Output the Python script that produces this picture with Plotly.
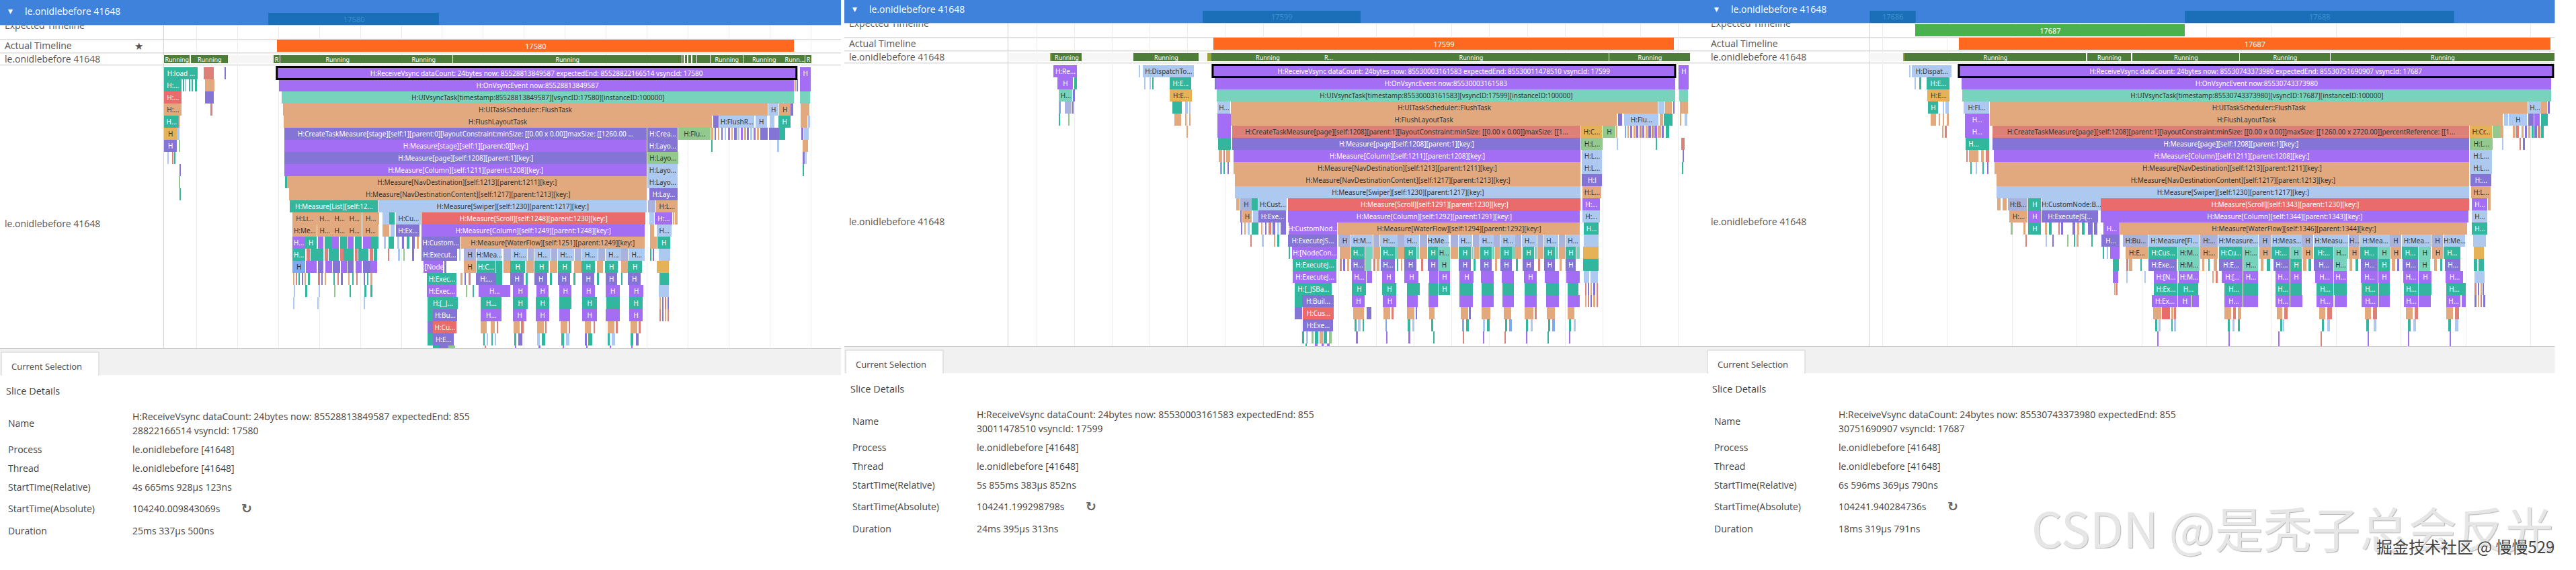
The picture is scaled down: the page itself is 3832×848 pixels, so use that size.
#! /usr/bin/python3

import plotly.graph_objects as go

W, H = 3832, 848
ROW_PX = 18

PROCESS = "le.onidlebefore 41648"
PROCESS_ID = "le.onidlebefore [41648]"

COLORS = {
    "v": "#a36ef3", "i": "#8474d6", "m": "#78d3bd", "t": "#33b69e", "p": "#e2a97f",
    "b": "#aec9ef", "r": "#e96b6b", "a": "#e6b257", "g": "#93c98c", "d": "#a9b2da",
    "s": "#dc8078", "c": "#7fa9ee", "run": "#4e7d3a", "ol": "#9aa63a", "bg": "#f6f6f6",
}
DARK_TEXT = {"p", "b", "m", "a", "g", "d", "s", "c"}

# panel 1, vsync 17580
P1_HEADER = [(489, 800, "17580")]
P1_EXPECTED = []
P1_ACTUAL = [(505, 1447, "17580")]
P1_STATES = [(298, 499, "bg", ""), (299, 346, "run", "Running"), (348, 416, "run", "Running"), (499, 510, "run", "R"),
             (511, 719, "run", "Running"), (720, 825, "run", "Running"), (826, 1243, "run", "Running"),
             (1244, 1247, "run", ""), (1249, 1253, "run", ""), (1255, 1260, "run", ""), (1262, 1270, "run", ""),
             (1271, 1294, "run", ""), (1295, 1355, "run", "Running"), (1356, 1430, "run", "Running"),
             (1431, 1467, "run", "Runn..."), (1468, 1479, "run", "R")]
P1_SELECTED = [(505, 1452, "H:ReceiveVsync dataCount: 24bytes now: 85528813849587 expectedEnd: 85528822166514 vsyncId: 17580")]
P1_R00 = [(299, 361, "t", "H:load ..."), (372, 390, "s"), (410, 412, "i"), (1458, 1478, "v", "H")]
P1_R01 = [(299, 331, "t", "H:..."), (334, 336, "t"), (338, 340, "b"), (345, 347, "t"), (350, 352, "t"), (355, 359, "t"),
          (374, 391, "p"), (510, 512, "v"), (513, 1447, "v", "H:OnVsyncEvent now:85528813849587"),
          (1449, 1451, "p"), (1453, 1455, "i"), (1458, 1478, "v")]
P1_R02 = [(299, 331, "r", "H:..."), (374, 390, "i"),
          (514, 1447, "m", "H:UIVsyncTask[timestamp:85528813849587][vsyncID:17580][instanceID:100000]"), (1459, 1477, "m")]
P1_R03 = [(299, 331, "p", "H:..."), (385, 387, "s"), (516, 1400, "p", "H:UITaskScheduler::FlushTask"),
          (1401, 1419, "b", "H"), (1420, 1441, "p", "H"), (1442, 1446, "i"), (1460, 1476, "p")]
P1_R04 = [(299, 326, "t", "H..."), (326, 328, "s"), (517, 1298, "p", "H:FlushLayoutTask"), (1300, 1310, "i"),
          (1312, 1375, "b", "H:FlushR..."), (1378, 1398, "b", "H"), (1403, 1412, "b"), (1419, 1441, "t", "H"),
          (1460, 1472, "p"), (1473, 1477, "b")]
P1_R05 = [(299, 323, "a", "H"), (323, 327, "b"),
          (518, 1179, "i", "H:CreateTaskMeasure[stage][self:1][parent:0][layoutConstraint:minSize: [[0.00 x 0.00]]maxSize: [[1260.00 ..."),
          (1180, 1236, "i", "H:Crea..."), (1237, 1296, "g", "H:Flu..."), (1297, 1300, "p"),
          (1303, 1306, "i"), (1309, 1312, "p"), (1315, 1318, "i"), (1321, 1324, "b"), (1327, 1331, "v"), (1333, 1336, "p"),
          (1339, 1343, "i"), (1345, 1348, "b"), (1351, 1355, "v"), (1357, 1360, "p"), (1362, 1366, "i"), (1368, 1372, "b"),
          (1374, 1378, "v"), (1380, 1384, "p"), (1386, 1400, "i"), (1402, 1420, "i"), (1420, 1432, "t"),
          (1461, 1465, "i"), (1466, 1474, "b")]
P1_R06 = [(299, 322, "i", "H"), (326, 329, "g"), (518, 1179, "v", "H:Measure[stage][self:1][parent:0][key:]"),
          (1180, 1236, "i", "H:Layo..."), (1297, 1299, "t"), (1418, 1420, "b"), (1464, 1473, "p")]
P1_R07 = [(306, 308, "b"), (314, 316, "s"), (318, 320, "t"), (519, 1179, "i", "H:Measure[page][self:1208][parent:1][key:]"),
          (1180, 1237, "g", "H:Layo..."), (1464, 1467, "i"), (1469, 1471, "b")]
P1_R08 = [(328, 330, "i"), (519, 1179, "v", "H:Measure[Column][self:1211][parent:1208][key:]"),
          (1180, 1236, "b", "H:Layo..."), (1464, 1466, "t")]
P1_R09 = [(327, 329, "g"), (521, 523, "t"), (523, 1179, "p", "H:Measure[NavDestination][self:1213][parent:1211][key:]"),
          (1180, 1236, "b", "H:Layo...")]
P1_R10 = [(327, 330, "t"), (527, 1179, "p", "H:Measure[NavDestinationContent][self:1217][parent:1213][key:]"),
          (1184, 1235, "i", "H:Lay...")]
P1_R11 = [(529, 689, "t", "H:Measure[List][self:12..."), (690, 1179, "b", "H:Measure[Swiper][self:1230][parent:1217][key:]"),
          (1182, 1195, "d"), (1196, 1235, "p", "H:L...")]
P1_R12 = [(533, 577, "p", "H:Li..."), (578, 605, "p", "H..."), (606, 632, "p", "H..."), (633, 660, "p", "H..."),
          (661, 691, "p", "H..."), (697, 710, "b"), (710, 720, "t"), (722, 767, "b", "H:Cu..."),
          (768, 1177, "r", "H:Measure[Scroll][self:1248][parent:1230][key:]"), (1184, 1193, "b"),
          (1194, 1226, "v", "H:..."), (1227, 1230, "p"), (1231, 1235, "p")]
P1_R13 = [(533, 578, "p", "H:Me..."), (579, 605, "p", "H..."), (606, 632, "p", "H..."), (633, 660, "p", "H..."),
          (661, 690, "p", "H..."), (698, 710, "p"), (712, 720, "b"), (722, 765, "i", "H:Ex..."),
          (768, 1175, "v", "H:Measure[Column][self:1249][parent:1248][key:]"), (1185, 1193, "p"), (1197, 1224, "b", "H...")]
P1_R14 = [(533, 556, "v", "H..."), (557, 578, "t", "H"), (580, 590, "v"), (592, 605, "t"), (606, 618, "v"), (620, 632, "t"),
          (634, 645, "v"), (647, 660, "t"), (662, 675, "v"), (676, 690, "t"), (700, 704, "b"), (708, 718, "t"),
          (724, 728, "b"), (733, 737, "i"), (742, 746, "t"), (752, 756, "i"), (760, 764, "p"),
          (768, 839, "i", "H:Custom..."), (840, 1175, "p", "H:Measure[WaterFlow][self:1251][parent:1249][key:]"),
          (1185, 1197, "p"), (1199, 1222, "t", "H")]
P1_R15 = [(533, 556, "t", "H..."), (559, 565, "s"), (566, 590, "t"), (592, 598, "s"), (599, 618, "t"), (620, 626, "s"),
          (627, 645, "t"), (647, 652, "s"), (653, 672, "t"), (674, 680, "s"), (681, 688, "t"),
          (708, 710, "s"), (726, 729, "b"), (735, 738, "g"), (752, 755, "i"),
          (768, 833, "i", "H:Execut..."), (838, 840, "b"), (846, 868, "d", "H"), (869, 915, "b", "H:Mea..."), (918, 933, "d"),
          (934, 961, "b", "H:..."), (962, 973, "d"), (975, 1004, "b", "H..."), (1005, 1016, "d"), (1018, 1047, "b", "H:..."),
          (1048, 1060, "d"), (1061, 1090, "b", "H..."), (1091, 1103, "d"), (1104, 1132, "b", "H..."), (1133, 1145, "d"),
          (1146, 1175, "b", "H..."), (1185, 1188, "t"), (1190, 1193, "i"), (1201, 1222, "b")]
P1_R16 = [(533, 556, "c", "H"), (558, 578, "v"), (580, 590, "i"), (593, 605, "v"), (607, 620, "i"), (621, 632, "v"),
          (634, 645, "i"), (648, 660, "v"), (662, 675, "i"), (676, 688, "v"), (772, 808, "v", "H:[Node..."), (810, 814, "i"),
          (846, 868, "p", "H"), (869, 903, "t", "H:C..."), (905, 916, "t"), (918, 930, "p"), (930, 957, "t", "H"),
          (960, 973, "p"), (975, 1000, "t", "H"), (1003, 1016, "p"), (1018, 1042, "t", "H"), (1047, 1060, "p"),
          (1060, 1085, "t", "H"), (1089, 1100, "p"), (1103, 1127, "t", "H"), (1132, 1145, "p"), (1145, 1170, "t", "H"),
          (1198, 1220, "a")]
P1_R17 = [(535, 537, "p"), (540, 542, "s"), (545, 547, "t"), (550, 553, "i"), (556, 558, "p"), (562, 565, "t"),
          (580, 583, "s"), (586, 589, "i"), (593, 595, "p"), (608, 611, "t"), (615, 618, "s"), (622, 625, "i"),
          (636, 638, "p"), (642, 645, "t"), (650, 652, "s"), (664, 666, "i"), (670, 672, "t"), (676, 679, "p"),
          (778, 832, "t", "H:Exec..."), (840, 843, "p"), (848, 850, "i"), (855, 858, "s"), (868, 905, "i", "H:..."),
          (905, 916, "t"), (930, 955, "i", "H"), (958, 962, "t"), (975, 998, "i", "H"), (1003, 1006, "t"), (1018, 1040, "i", "H"),
          (1046, 1049, "t"), (1062, 1083, "i", "H"), (1088, 1092, "t"), (1105, 1125, "i", "H"), (1132, 1135, "t"),
          (1145, 1168, "i", "H"), (1202, 1220, "t")]
P1_R18 = [(536, 538, "b"), (557, 560, "t"), (582, 584, "b"), (610, 612, "g"), (638, 640, "t"), (665, 668, "t"), (676, 679, "t"),
          (778, 832, "v", "H:Exec..."), (850, 852, "g"), (862, 864, "t"), (873, 930, "v", "H..."), (935, 962, "v", "H"),
          (978, 1000, "v", "H"), (1020, 1042, "v", "H"), (1062, 1085, "v", "H"), (1105, 1130, "v", "H"), (1147, 1173, "v", "H"),
          (1201, 1220, "b")]
P1_R19 = [(535, 537, "b"), (579, 581, "b"), (664, 666, "b"), (780, 835, "t", "H:[_J..."), (877, 915, "t", "H..."), (935, 962, "t", "H"),
          (977, 1002, "t", "H"), (1020, 1042, "t"), (1062, 1088, "t", "H"), (1106, 1130, "t"), (1147, 1172, "t", "H"),
          (1202, 1205, "p"), (1207, 1210, "i"), (1212, 1215, "s"), (1217, 1220, "i")]
P1_R20 = [(780, 790, "t"), (790, 833, "i", "H:Bu..."), (877, 915, "v", "H..."), (935, 960, "v", "H"), (977, 1002, "v", "H"),
          (1020, 1040, "v"), (1062, 1088, "v", "H"), (1105, 1130, "v"), (1147, 1172, "v", "H"),
          (1202, 1205, "s"), (1207, 1210, "i"), (1212, 1215, "p"), (1217, 1220, "s")]
P1_R21 = [(780, 790, "i"), (790, 832, "r", "H:Cu..."), (877, 888, "p"), (895, 902, "p"), (906, 908, "s"), (937, 948, "p"), (950, 955, "s"),
          (980, 992, "p"), (995, 997, "s"), (1022, 1034, "p"), (1037, 1040, "s"), (1066, 1078, "p"), (1082, 1085, "s"),
          (1108, 1120, "p"), (1123, 1126, "s"), (1150, 1162, "p"), (1165, 1168, "s")]
P1_R22 = [(780, 790, "t"), (790, 828, "i", "H:E..."), (881, 884, "t"), (887, 890, "b"), (896, 899, "t"), (903, 905, "b"),
          (938, 942, "t"), (945, 952, "i"), (980, 984, "b"), (988, 994, "t"), (1023, 1028, "t"), (1032, 1038, "b"),
          (1066, 1070, "i"), (1073, 1080, "t"), (1108, 1112, "t"), (1116, 1122, "b"), (1150, 1155, "t"), (1159, 1165, "i")]
P1_R23 = [(790, 800, "t"), (800, 818, "i"), (818, 830, "g"), (884, 886, "s"), (940, 942, "v"), (983, 985, "v"), (1026, 1028, "v"),
          (1069, 1071, "i"), (1112, 1114, "v"), (1152, 1154, "v")]
P1_ROWS = [P1_R00, P1_R01, P1_R02, P1_R03, P1_R04, P1_R05, P1_R06, P1_R07, P1_R08, P1_R09, P1_R10, P1_R11,
           P1_R12, P1_R13, P1_R14, P1_R15, P1_R16, P1_R17, P1_R18, P1_R19, P1_R20, P1_R21, P1_R22, P1_R23]

# panel 2, vsync 17599
P2_HEADER = [(644, 930, "17599")]
P2_EXPECTED = []
P2_ACTUAL = [(664, 1498, "17599")]
P2_STATES = [(293, 653, "bg", ""), (368, 370, "ol", ""), (370, 425, "run", "Running"), (519, 637, "run", "Running"), (653, 660, "ol", ""),
             (660, 863, "run", "Running"), (864, 880, "run", "R..."), (881, 1380, "run", "Running"), (1381, 1527, "run", "Running")]
P2_SELECTED = [(663, 1501, "H:ReceiveVsync dataCount: 24bytes now: 85530003161583 expectedEnd: 85530011478510 vsyncId: 17599")]
P2_R00 = [(374, 416, "v", "H:Re..."), (529, 531, "b"), (536, 628, "b", "H:DispatchTo..."), (1506, 1525, "v", "H")]
P2_R01 = [(381, 409, "v", "H"), (411, 417, "t"), (539, 541, "b"), (548, 550, "b"), (553, 555, "t"), (585, 623, "t", "H:E..."),
          (667, 669, "i"), (669, 1501, "v", "H:OnVsyncEvent now:85530003161583"), (1507, 1525, "v")]
P2_R02 = [(384, 408, "m", "H..."), (409, 413, "i"), (585, 625, "a", "H:E..."),
          (670, 1501, "m", "H:UIVsyncTask[timestamp:85530003161583][vsyncID:17599][instanceID:100000]"), (1508, 1524, "m")]
P2_R03 = [(384, 387, "c"), (394, 407, "d"), (408, 410, "i"), (590, 607, "t"), (613, 617, "b"), (620, 622, "b"),
          (671, 694, "b", "H..."), (695, 1469, "p", "H:UITaskScheduler::FlushTask"), (1470, 1481, "b"), (1482, 1494, "p"),
          (1497, 1499, "i"), (1509, 1523, "p")]
P2_R04 = [(384, 386, "t"), (401, 403, "g"), (593, 605, "p"), (613, 615, "p"), (620, 622, "p"), (671, 695, "v"),
          (695, 1395, "p", "H:FlushLayoutTask"), (1397, 1404, "i"), (1408, 1470, "b", "H:Flu..."), (1472, 1479, "p"), (1480, 1495, "t"),
          (1510, 1512, "p"), (1518, 1522, "b")]
P2_R05 = [(616, 618, "p"), (671, 695, "v"),
          (698, 1329, "s", "H:CreateTaskMeasure[page][self:1208][parent:1][layoutConstraint:minSize: [[0.00 x 0.00]]maxSize: [[1..."),
          (1330, 1368, "a", "H:C..."), (1369, 1392, "g", "H"), (1393, 1396, "p"), (1409, 1412, "c"), (1414, 1417, "p"), (1419, 1423, "v"),
          (1425, 1428, "p"), (1430, 1434, "i"), (1436, 1439, "s"), (1441, 1445, "v"), (1447, 1450, "p"), (1452, 1456, "i"),
          (1458, 1461, "s"), (1463, 1467, "v"), (1469, 1475, "p"), (1476, 1480, "i"), (1483, 1489, "t")]
P2_R06 = [(672, 695, "t"), (698, 1329, "i", "H:Measure[page][self:1208][parent:1][key:]"), (1330, 1369, "g", "H:L..."),
          (1395, 1397, "b"), (1466, 1468, "t"), (1512, 1518, "s")]
P2_R07 = [(674, 680, "p"), (682, 685, "s"), (687, 694, "p"), (700, 1329, "v", "H:Measure[Column][self:1211][parent:1208][key:]"),
          (1331, 1368, "b", "H:L..."), (1514, 1516, "i")]
P2_R08 = [(677, 679, "c"), (683, 685, "t"), (690, 692, "i"), (700, 1329, "p", "H:Measure[NavDestination][self:1213][parent:1211][key:]"),
          (1331, 1368, "b", "H:L..."), (1513, 1515, "t")]
P2_R09 = [(703, 1329, "p", "H:Measure[NavDestinationContent][self:1217][parent:1213][key:]"), (1331, 1368, "i", "H:l")]
P2_R10 = [(703, 1329, "b", "H:Measure[Swiper][self:1230][parent:1217][key:]"), (1332, 1366, "p", "H:L...")]
P2_R11 = [(705, 711, "p"), (713, 733, "d", "H"), (733, 744, "t"), (745, 797, "b", "H:Cust..."),
          (799, 1329, "r", "H:Measure[Scroll][self:1291][parent:1230][key:]"), (1332, 1364, "v", "H:...")]
P2_R12 = [(713, 715, "i"), (716, 733, "p", "H"), (735, 745, "b"), (745, 795, "i", "H:Exe..."),
          (799, 1328, "v", "H:Measure[Column][self:1292][parent:1291][key:]"), (1332, 1364, "b", "H:...")]
P2_R13 = [(714, 716, "i"), (720, 722, "p"), (726, 729, "b"), (733, 745, "t"), (750, 753, "p"), (757, 760, "i"), (764, 768, "s"),
          (771, 776, "i"), (779, 783, "b"), (786, 795, "i"), (800, 888, "v", "H:CustomNod..."),
          (889, 1328, "p", "H:Measure[WaterFlow][self:1294][parent:1292][key:]"), (1335, 1362, "t", "H...")]
P2_R14 = [(731, 733, "s"), (751, 755, "b"), (773, 776, "p"), (780, 783, "t"), (799, 888, "i", "H:ExecuteJS..."), (890, 912, "d", "H"),
          (913, 952, "b", "H:M..."), (953, 965, "d"), (966, 997, "b", "H:..."), (998, 1009, "d"), (1010, 1037, "b", "H..."),
          (1038, 1051, "d"), (1052, 1090, "b", "H:Me..."), (1094, 1107, "d"), (1108, 1133, "b", "H..."), (1134, 1146, "d"),
          (1147, 1171, "b", "H..."), (1172, 1183, "d"), (1184, 1210, "b", "H..."), (1211, 1222, "d"), (1223, 1250, "b", "H..."),
          (1251, 1262, "d"), (1263, 1289, "b", "H..."), (1290, 1301, "d"), (1302, 1327, "b", "H..."), (1335, 1361, "b")]
P2_R15 = [(800, 803, "t"), (806, 888, "v", "H:[NodeCon..."), (893, 912, "p"), (913, 938, "t", "H..."), (939, 952, "m"), (953, 966, "p"),
          (967, 992, "t", "H..."), (993, 997, "m"), (998, 1009, "p"), (1010, 1032, "t", "H"), (1033, 1037, "m"), (1038, 1051, "p"),
          (1052, 1070, "t", "H"), (1071, 1092, "m", "H..."), (1094, 1107, "p"), (1108, 1130, "t", "H"), (1131, 1135, "m"), (1136, 1146, "p"),
          (1147, 1168, "t", "H"), (1169, 1173, "m"), (1174, 1183, "p"), (1184, 1204, "t", "H"), (1205, 1210, "m"), (1211, 1222, "p"),
          (1224, 1245, "t", "H"), (1246, 1250, "m"), (1251, 1262, "p"), (1263, 1283, "t", "H"), (1284, 1289, "m"), (1290, 1301, "p"),
          (1302, 1320, "t", "H"), (1321, 1327, "m"), (1334, 1362, "a")]
P2_R16 = [(807, 887, "t", "H:ExecuteJ..."), (893, 896, "s"), (899, 902, "i"), (906, 910, "p"), (913, 938, "i", "H..."), (939, 950, "m"),
          (953, 957, "s"), (960, 964, "p"), (967, 992, "i", "H..."), (996, 999, "t"), (1003, 1006, "p"), (1010, 1032, "i", "H"), (1040, 1044, "s"),
          (1052, 1070, "i", "H"), (1071, 1092, "m", "H"), (1108, 1130, "i", "H"), (1135, 1139, "t"), (1147, 1168, "i", "H"), (1174, 1178, "p"),
          (1184, 1204, "i", "H"), (1212, 1216, "t"), (1224, 1245, "i", "H"), (1252, 1256, "s"), (1263, 1283, "i", "H"),
          (1291, 1295, "p"), (1302, 1320, "i", "H"), (1334, 1362, "t")]
P2_R17 = [(807, 887, "v", "H:ExecuteJ..."), (914, 940, "v", "H..."), (941, 951, "v"), (970, 993, "v", "H"), (1010, 1035, "v", "H"), (1055, 1070, "v"),
          (1072, 1092, "v", "H"), (1109, 1135, "v", "H"), (1148, 1172, "v"), (1186, 1208, "v"), (1226, 1250, "v", "H"), (1264, 1290, "v"),
          (1303, 1327, "v"), (1335, 1345, "b"), (1347, 1360, "b")]
P2_R18 = [(811, 878, "t", "H:[_JSBa..."), (915, 940, "t", "H"), (970, 995, "t", "H"), (1014, 1038, "t"), (1053, 1070, "t"),
          (1072, 1092, "t", "H"), (1110, 1134, "t"), (1150, 1172, "t"), (1188, 1208, "t"), (1228, 1250, "t"), (1267, 1290, "t"),
          (1305, 1325, "t"), (1337, 1340, "s"), (1342, 1345, "i"), (1347, 1350, "p"), (1352, 1356, "i"), (1358, 1360, "s")]
P2_R19 = [(811, 824, "t"), (825, 882, "i", "H:Buil..."), (915, 938, "v", "H"), (971, 995, "v", "H"), (1014, 1034, "v"), (1053, 1070, "v"),
          (1110, 1134, "v"), (1150, 1172, "v"), (1188, 1208, "v"), (1228, 1250, "v"), (1267, 1290, "v"), (1305, 1327, "v"),
          (1337, 1340, "p"), (1342, 1345, "s"), (1347, 1350, "i"), (1352, 1356, "p"), (1358, 1360, "s")]
P2_R20 = [(811, 824, "i"), (826, 882, "r", "H:Cus..."), (917, 936, "p"), (941, 950, "i"), (972, 984, "p"), (986, 990, "s"), (1015, 1028, "p"),
          (1030, 1033, "i"), (1055, 1065, "p"), (1112, 1125, "p"), (1127, 1130, "i"), (1150, 1165, "p"), (1190, 1203, "p"), (1228, 1243, "p"),
          (1246, 1250, "s"), (1268, 1283, "p"), (1305, 1318, "p")]
P2_R21 = [(826, 880, "i", "H:Exe..."), (920, 923, "t"), (926, 930, "b"), (934, 937, "t"), (975, 978, "c"), (1016, 1020, "t"), (1024, 1028, "b"),
          (1058, 1062, "t"), (1114, 1118, "c"), (1122, 1126, "t"), (1152, 1156, "b"), (1160, 1164, "t"), (1192, 1196, "t"), (1200, 1204, "c"),
          (1230, 1234, "t"), (1238, 1242, "b"), (1270, 1274, "t"), (1278, 1282, "c"), (1308, 1312, "t"), (1316, 1320, "b")]
P2_R22 = [(825, 828, "t"), (832, 836, "b"), (841, 845, "g"), (848, 854, "t"), (856, 862, "p"), (864, 870, "t"), (873, 878, "g"),
          (923, 925, "v"), (977, 979, "v"), (1018, 1020, "v"), (1062, 1064, "t"), (1116, 1118, "s"), (1153, 1155, "v"),
          (1192, 1194, "s"), (1231, 1233, "v"), (1270, 1272, "t"), (1309, 1311, "v")]
P2_R23 = [(830, 833, "t"), (848, 852, "v"), (860, 864, "v"), (870, 874, "v")]
P2_ROWS = [P2_R00, P2_R01, P2_R02, P2_R03, P2_R04, P2_R05, P2_R06, P2_R07, P2_R08, P2_R09, P2_R10, P2_R11,
           P2_R12, P2_R13, P2_R14, P2_R15, P2_R16, P2_R17, P2_R18, P2_R19, P2_R20, P2_R21, P2_R22, P2_R23]

# panel 3, vsync 17687
P3_HEADER = [(293, 376, "17686"), (862, 1348, "17688")]
P3_EXPECTED = [(375, 862, "17687")]
P3_ACTUAL = [(454, 1522, "17687")]
P3_STATES = [(293, 354, "bg", ""), (354, 356, "ol", ""), (356, 684, "run", "Running"), (686, 765, "run", "Running"), (767, 961, "run", "Running"),
             (962, 1125, "run", "Running"), (1126, 1530, "run", "Running")]
P3_SELECTED = [(454, 1527, "H:ReceiveVsync dataCount: 24bytes now: 85530743373980 expectedEnd: 85530751690907 vsyncId: 17687")]
P3_R00 = [(365, 367, "b"), (370, 441, "b", "H:Dispat...")]
P3_R01 = [(375, 377, "b"), (384, 386, "t"), (396, 437, "t", "H:E..."), (459, 1524, "v", "H:OnVsyncEvent now:85530743373980")]
P3_R02 = [(397, 437, "a", "H:E..."), (461, 1524, "m", "H:UIVsyncTask[timestamp:85530743373980][vsyncID:17687][instanceID:100000]")]
P3_R03 = [(399, 417, "t", "H"), (425, 428, "b"), (430, 436, "b"), (463, 509, "b", "H:Fl..."), (510, 1481, "p", "H:UITaskScheduler::FlushTask"),
          (1482, 1505, "b", "H..."), (1505, 1517, "p"), (1518, 1521, "i")]
P3_R04 = [(403, 413, "p"), (418, 421, "p"), (425, 428, "p"), (432, 436, "p"), (465, 509, "v", "H..."), (510, 1437, "p", "H:FlushLayoutTask"),
          (1439, 1446, "b"), (1447, 1480, "b", "H"), (1482, 1492, "i"), (1493, 1503, "v"), (1505, 1518, "t")]
P3_R05 = [(425, 427, "p"), (430, 432, "s"), (465, 509, "v", "H..."),
          (515, 1376, "s", "H:CreateTaskMeasure[page][self:1208][parent:1][layoutConstraint:minSize: [[0.00 x 0.00]]maxSize: [[1260.00 x 2720.00]]percentReference: [[1..."),
          (1377, 1417, "a", "H:Cr..."), (1418, 1432, "g"), (1432, 1438, "p"), (1455, 1459, "p"), (1461, 1466, "s"), (1470, 1474, "p"),
          (1476, 1480, "i"), (1483, 1486, "p"), (1488, 1492, "t"), (1494, 1498, "i"), (1500, 1504, "s"), (1505, 1511, "t")]
P3_R06 = [(466, 495, "t", "H..."), (495, 509, "t"), (515, 1376, "i", "H:Measure[page][self:1208][parent:1][key:]"), (1377, 1418, "g", "H:L..."),
          (1436, 1438, "b"), (1467, 1469, "s"), (1474, 1476, "i")]
P3_R07 = [(468, 470, "s"), (473, 490, "p"), (495, 499, "p"), (503, 509, "s"), (517, 1376, "v", "H:Measure[Column][self:1211][parent:1208][key:]"),
          (1377, 1417, "b", "H:L...")]
P3_R08 = [(476, 478, "t"), (485, 487, "b"), (497, 499, "t"), (505, 508, "i"),
          (519, 1376, "p", "H:Measure[NavDestination][self:1213][parent:1211][key:]"), (1377, 1417, "b", "H:L...")]
P3_R09 = [(522, 1376, "p", "H:Measure[NavDestinationContent][self:1217][parent:1213][key:]"), (1378, 1416, "i", "H:...")]
P3_R10 = [(522, 1376, "b", "H:Measure[Swiper][self:1230][parent:1217][key:]"), (1379, 1415, "p", "H:L...")]
P3_R11 = [(524, 530, "p"), (533, 541, "p"), (543, 578, "d", "H:B..."), (580, 603, "t", "H"), (604, 710, "b", "H:CustomNode:B..."),
          (711, 1376, "r", "H:Measure[Scroll][self:1343][parent:1230][key:]"), (1380, 1409, "v", "H..."), (1410, 1415, "p")]
P3_R12 = [(545, 578, "p", "H:..."), (580, 603, "v", "H"), (604, 706, "i", "H:ExecuteJS[..."),
          (711, 1374, "v", "H:Measure[Column][self:1344][parent:1343][key:]"), (1381, 1409, "b", "H...")]
P3_R13 = [(549, 551, "g"), (572, 574, "p"), (580, 603, "t", "H"), (610, 614, "p"), (617, 622, "t"), (635, 637, "s"), (640, 642, "i"),
          (660, 664, "i"), (668, 672, "p"), (676, 682, "t"), (688, 696, "i"), (698, 705, "i"), (715, 745, "v", "H..."),
          (746, 1372, "p", "H:Measure[WaterFlow][self:1346][parent:1344][key:]"), (1381, 1408, "t", "H...")]
P3_R14 = [(575, 577, "s"), (611, 614, "b"), (624, 626, "i"), (650, 652, "g"), (662, 664, "t"), (667, 670, "p"), (694, 696, "t"),
          (712, 745, "i", "H..."), (751, 795, "d", "H:Bu..."), (797, 889, "b", "H:Measure[Fl..."), (890, 922, "d", "H:..."),
          (923, 995, "b", "H:Measure..."), (996, 1018, "d", "H"), (1019, 1073, "b", "H:Meas..."), (1074, 1094, "d", "H"),
          (1095, 1157, "b", "H:Measu..."), (1158, 1178, "d", "H..."), (1179, 1232, "b", "H:Mea..."), (1233, 1253, "d", "H"),
          (1254, 1307, "b", "H:Mea..."), (1308, 1328, "d", "H"), (1329, 1368, "b", "H:Me..."), (1383, 1406, "b")]
P3_R15 = [(715, 717, "t"), (722, 724, "b"), (727, 745, "v"), (755, 796, "p", "H:E..."), (797, 849, "t", "H:Cus..."), (850, 889, "m", "H:M..."),
          (890, 922, "p", "H:..."), (924, 967, "t", "H:Cu..."), (968, 995, "m", "H:..."), (997, 1018, "p", "H"), (1019, 1052, "t", "H:..."),
          (1053, 1073, "m", "H"), (1075, 1094, "p", "H"), (1095, 1131, "t", "H:..."), (1132, 1157, "m", "H..."), (1158, 1178, "p", "H"),
          (1179, 1211, "t", "H..."), (1212, 1232, "m", "H"), (1234, 1253, "p", "H"), (1254, 1284, "t", "H..."), (1285, 1307, "m", "H"),
          (1309, 1328, "p", "H"), (1330, 1360, "t", "H..."), (1384, 1403, "a")]
P3_R16 = [(732, 743, "t"), (757, 760, "s"), (762, 768, "p"), (783, 785, "t"), (797, 848, "i", "H:Exe..."), (850, 889, "m", "H:M..."),
          (894, 897, "p"), (905, 907, "t"), (915, 920, "p"), (924, 967, "i", "H:E..."), (968, 995, "m", "H..."), (1000, 1004, "p"), (1010, 1016, "t"),
          (1022, 1052, "i", "H:..."), (1053, 1073, "t", "H"), (1076, 1082, "p"), (1086, 1090, "t"), (1095, 1131, "i", "H..."), (1132, 1155, "m", "H..."),
          (1160, 1165, "p"), (1170, 1175, "t"), (1180, 1211, "i", "H..."), (1212, 1232, "t", "H"), (1236, 1242, "p"), (1246, 1250, "i"),
          (1255, 1284, "i", "H..."), (1285, 1305, "m", "H"), (1312, 1317, "p"), (1323, 1327, "t"), (1332, 1360, "i", "H..."), (1384, 1390, "t"), (1393, 1403, "t")]
P3_R17 = [(732, 742, "v"), (757, 759, "b"), (790, 792, "b"), (806, 849, "v", "H:[N..."), (851, 888, "v", "H:M..."), (912, 915, "p"), (918, 922, "s"),
          (929, 967, "v", "H:[..."), (968, 995, "v", "H..."), (1026, 1052, "v", "H..."), (1053, 1074, "v", "H"), (1098, 1131, "v", "H..."),
          (1132, 1155, "v", "H..."), (1180, 1211, "v", "H..."), (1212, 1232, "v", "H"), (1257, 1284, "v", "H..."), (1285, 1308, "v", "H"),
          (1333, 1365, "v", "H..."), (1386, 1404, "b")]
P3_R18 = [(735, 737, "p"), (738, 741, "s"), (807, 849, "t", "H:Ex..."), (850, 887, "t", "H..."), (934, 967, "t", "H..."), (968, 994, "t"),
          (1026, 1052, "t", "H..."), (1053, 1074, "t"), (1100, 1131, "t", "H..."), (1132, 1155, "t"), (1182, 1212, "t", "H..."), (1213, 1232, "t"),
          (1258, 1284, "t", "H..."), (1285, 1308, "t"), (1335, 1362, "t", "H..."), (1362, 1370, "t"),
          (1386, 1389, "s"), (1391, 1394, "i"), (1396, 1399, "p"), (1401, 1403, "i")]
P3_R19 = [(803, 849, "v", "H:Ex..."), (850, 875, "v", "H"), (876, 888, "v"), (934, 967, "v", "H..."), (968, 995, "v"), (1026, 1052, "v", "H..."),
          (1053, 1075, "v"), (1100, 1131, "v", "H..."), (1133, 1155, "v"), (1182, 1212, "v", "H..."), (1213, 1232, "v"), (1258, 1284, "v", "H..."),
          (1285, 1307, "v"), (1335, 1360, "v", "H..."), (1362, 1370, "v"), (1386, 1389, "i"), (1391, 1394, "p"), (1396, 1399, "s"), (1401, 1405, "i")]
P3_R20 = [(805, 820, "p"), (821, 836, "r"), (838, 842, "p"), (844, 846, "s"), (934, 946, "p"), (950, 954, "s"), (958, 964, "p"),
          (1028, 1038, "p"), (1042, 1048, "s"), (1105, 1116, "p"), (1120, 1128, "s"), (1187, 1198, "p"), (1202, 1210, "s"),
          (1262, 1274, "p"), (1277, 1283, "s"), (1335, 1346, "p"), (1350, 1357, "s")]
P3_R21 = [(809, 812, "t"), (815, 818, "b"), (838, 841, "t"), (844, 846, "b"), (940, 944, "t"), (948, 952, "b"), (958, 962, "t"),
          (1035, 1038, "t"), (1040, 1042, "b"), (1110, 1114, "t"), (1120, 1125, "b"), (1190, 1195, "t"), (1203, 1208, "b"),
          (1265, 1270, "t"), (1275, 1280, "b"), (1338, 1343, "t"), (1350, 1356, "b")]
P3_R22 = [(813, 815, "v"), (942, 944, "v"), (1031, 1033, "v"), (1108, 1110, "s"), (1193, 1195, "v"), (1266, 1268, "v"), (1341, 1343, "v")]
P3_R23 = [(813, 815, "v"), (942, 944, "v"), (1031, 1033, "v"), (1108, 1110, "s"), (1193, 1195, "v"), (1266, 1268, "v"), (1341, 1343, "v")]
P3_ROWS = [P3_R00, P3_R01, P3_R02, P3_R03, P3_R04, P3_R05, P3_R06, P3_R07, P3_R08, P3_R09, P3_R10, P3_R11,
           P3_R12, P3_R13, P3_R14, P3_R15, P3_R16, P3_R17, P3_R18, P3_R19, P3_R20, P3_R21, P3_R22, P3_R23]

# the detail pane under each timeline
P1_NAME = ["H:ReceiveVsync dataCount: 24bytes now: 85528813849587 expectedEnd: 855", "28822166514 vsyncId: 17580"]
P1_TIMES = ["4s 665ms 928μs 123ns", "104240.009843069s", "25ms 337μs 500ns"]
P2_NAME = ["H:ReceiveVsync dataCount: 24bytes now: 85530003161583 expectedEnd: 855", "30011478510 vsyncId: 17599"]
P2_TIMES = ["5s 855ms 383μs 852ns", "104241.199298798s", "24ms 395μs 313ns"]
P3_NAME = ["H:ReceiveVsync dataCount: 24bytes now: 85530743373980 expectedEnd: 855", "30751690907 vsyncId: 17687"]
P3_TIMES = ["6s 596ms 369μs 790ns", "104241.940284736s", "18ms 319μs 791ns"]

TRACK_NAMES = ["Expected Timeline", "Actual Timeline", PROCESS]
DETAIL_NAMES = ["Name", "Process", "Thread", "StartTime(Relative)", "StartTime(Absolute)", "Duration"]

# page geometry of each panel: left, chart left, right, y shift, zoom x at chart left and right, grid start and step
PANELS = [
    dict(left=0, chart=243.3, right=1251, dy=0, x0=298, x1=1533, tick0=358, dtick=74.7,
         header=P1_HEADER, expected=P1_EXPECTED, actual=P1_ACTUAL, states=P1_STATES, selected=P1_SELECTED, rows=P1_ROWS,
         name=P1_NAME, times=P1_TIMES),
    dict(left=1256, chart=1499.4, right=2538, dy=-3, x0=291, x1=1556, tick0=343, dtick=68.4,
         header=P2_HEADER, expected=P2_EXPECTED, actual=P2_ACTUAL, states=P2_STATES, selected=P2_SELECTED, rows=P2_ROWS,
         name=P2_NAME, times=P2_TIMES),
    dict(left=2538, chart=2781.4, right=3800.5, dy=-3, x0=293, x1=1530, tick0=316, dtick=117.05,
         header=P3_HEADER, expected=P3_EXPECTED, actual=P3_ACTUAL, states=P3_STATES, selected=P3_SELECTED, rows=P3_ROWS,
         name=P3_NAME, times=P3_TIMES),
]

FONT = "Open Sans"
SLICE_FONT = "Noto Sans"
BLUE = "#3e82dc"
DARK_BLUE = "#1a6fb8"
TEXT = "#444444"


def px(x):
    return x / W


def py(y):
    return 1 - y / H


def slice_bars(items, row, xaxis, yaxis, height=1.0, fontsize=10):
    starts, widths, colors, labels, text_colors = [], [], [], [], []
    for item in items:
        start, end, kind = item[:3]
        label = item[3] if len(item) > 3 else ""
        starts.append(start)
        widths.append(end - start)
        colors.append(COLORS[kind])
        labels.append(label)
        text_colors.append("#333333" if kind in DARK_TEXT else "#ffffff")
    return go.Bar(y=[row] * len(items), x=widths, base=starts, orientation="h", width=height,
                  xaxis=xaxis, yaxis=yaxis, marker=dict(color=colors, line=dict(width=0)),
                  text=labels, textposition="inside", insidetextanchor="middle", textangle=0,
                  constraintext="none", insidetextfont=dict(family=SLICE_FONT, size=fontsize, color=text_colors),
                  hoverinfo="skip", showlegend=False)


shapes = []
annotations = []
data = []
layout_axes = {}


def rect(x0, y0, x1, y1, color, layer="above", line=None):
    shapes.append(dict(type="rect", xref="paper", yref="paper", x0=px(x0), x1=px(x1), y0=py(y0), y1=py(y1),
                       fillcolor=color, layer=layer, line=dict(width=0) if line is None else line))


def label(x, y, text, size=15, color=TEXT, family=FONT, anchor="left", shadow=None):
    font = dict(family=family, size=size, color=color)
    if shadow:
        font["shadow"] = shadow
    annotations.append(dict(xref="paper", yref="paper", x=px(x), y=py(y), text=text, showarrow=False,
                            xanchor=anchor, yanchor="middle", align="left", font=font))


page_x, page_y, page_text = [], [], []

for n, panel in enumerate(PANELS, start=1):
    left, chart, right, dy = panel["left"], panel["chart"], panel["right"], panel["dy"]
    row_top = 100 + dy
    xname = "xaxis" if n == 1 else f"xaxis{n}"
    yname = "yaxis" if n == 1 else f"yaxis{n}"
    xref = "x" if n == 1 else f"x{n}"
    yref = "y" if n == 1 else f"y{n}"

    layout_axes[xname] = dict(domain=[px(chart), px(right)], range=[panel["x0"], panel["x1"]], anchor=yref,
                              showgrid=True, gridcolor="#ececec", gridwidth=1, tick0=panel["tick0"], dtick=panel["dtick"],
                              tickmode="linear", showticklabels=False, ticks="", zeroline=False, showline=False)
    layout_axes[yname] = dict(domain=[0, 1], range=[(H - row_top) / ROW_PX - 0.5, -row_top / ROW_PX - 0.5], anchor=xref,
                              visible=False, showgrid=False, zeroline=False)

    # tracks above the flame chart
    expected_y = (45 - 97) / ROW_PX - 0.5
    actual_y = (68 - 100) / ROW_PX - 0.5
    state_y = (88 - 100) / ROW_PX - 0.5
    if panel["expected"]:
        data.append(go.Bar(y=[expected_y] * len(panel["expected"]), x=[e - s for s, e, _ in panel["expected"]],
                           base=[s for s, _, _ in panel["expected"]], orientation="h", width=1, xaxis=xref, yaxis=yref,
                           marker=dict(color="#4caf50", line=dict(width=0)), text=[t for _, _, t in panel["expected"]],
                           textposition="inside", insidetextanchor="middle", textangle=0, constraintext="none",
                           insidetextfont=dict(family=SLICE_FONT, size=11, color="#ffffff"), hoverinfo="skip", showlegend=False))
    data.append(go.Bar(y=[actual_y] * len(panel["actual"]), x=[e - s for s, e, _ in panel["actual"]],
                       base=[s for s, _, _ in panel["actual"]], orientation="h", width=1, xaxis=xref, yaxis=yref,
                       marker=dict(color="#ff681f", line=dict(width=0)), text=[t for _, _, t in panel["actual"]],
                       textposition="inside", insidetextanchor="middle", textangle=0, constraintext="none",
                       insidetextfont=dict(family=SLICE_FONT, size=11, color="#ffffff"), hoverinfo="skip", showlegend=False))
    data.append(slice_bars(panel["states"], state_y, xref, yref, height=12 / ROW_PX, fontsize=9))

    # flame rows
    for r, items in enumerate(panel["rows"]):
        if items:
            data.append(slice_bars(items, r, xref, yref))
    sel = [(s, e, "v", t) for s, e, t in panel["selected"]]
    sel_trace = slice_bars(sel, 0, xref, yref)
    sel_trace.marker.line = dict(width=3, color="#000000")
    data.append(sel_trace)

    # labels on the left, drawn under the header so that the first one is cut by it
    for name, y in zip(TRACK_NAMES, [39, 69, 89]):
        page_x.append(left + 7)
        page_y.append(y + dy)
        page_text.append(name)
    page_x.append(left + 7)
    page_y.append(334 + dy)
    page_text.append(PROCESS)

    # row borders and left edge of the chart
    rect(left, 58 + dy, right, 59.5 + dy, "#dcdcdc", layer="below")
    rect(left, 78 + dy, right, 79.5 + dy, "#dcdcdc", layer="below")
    rect(left, 96 + dy, right, 97.5 + dy, "#dcdcdc", layer="below")
    rect(chart - 0.5, 37 + dy, chart + 0.5, 518 + dy, "#cfcfcf", layer="below")

    # header
    rect(left, 0, right, 37 + dy, BLUE)
    rect(left, 37 + dy, right, 38 + dy, "#b9d3f3")
    scale = (right - chart) / (panel["x1"] - panel["x0"])
    for s, e, t in panel["header"]:
        bx0 = chart + (s - panel["x0"]) * scale
        bx1 = chart + (e - panel["x0"]) * scale
        rect(bx0, 19 + dy, bx1, 37 + dy, DARK_BLUE)
        label((bx0 + bx1) / 2, 28 + dy, t, size=11, color="#3f8fcf", family=SLICE_FONT, anchor="center")
    label(left + 15, 17 + dy, "▼", size=9, color="#ffffff", family="DejaVu Sans", anchor="center")
    label(left + 35, 17 + dy, PROCESS, size=14, color="#ffffff")

    # detail pane
    rect(left, 518 + dy, right, 558 + dy, "#f1f1f1")
    rect(left, 518 + dy, right, 519 + dy, "#cccccc")
    rect(left, 558 + dy, right, H, "#ffffff")
    rect(left + 2, 524 + dy, left + 147, 558 + dy, "#ffffff", line=dict(width=1, color="#d0d0d0"))
    rect(left + 3, 553 + dy, left + 146, 559 + dy, "#ffffff")
    label(left + 15, 545 + dy, "Current Selection", size=13)
    label(left + 7, 581 + dy, "Slice Details", size=14.5)
    for name, y in zip(DETAIL_NAMES, [629, 668, 696, 724, 756, 789]):
        label(left + 10, y + dy, name, size=14)
    label(left + 195, 619 + dy, panel["name"][0], size=14)
    label(left + 195, 640 + dy, panel["name"][1], size=14)
    label(left + 195, 668 + dy, PROCESS_ID, size=14)
    label(left + 195, 696 + dy, PROCESS_ID, size=14)
    label(left + 195, 724 + dy, panel["times"][0], size=14)
    label(left + 195, 756 + dy, panel["times"][1], size=14)
    label(left + 195, 789 + dy, panel["times"][2], size=14)
    label(left + 367, 756 + dy, "<b>↻</b>", size=19, color="#666666", family="DejaVu Sans", anchor="center")

label(206, 69, "★", size=15, color="#555555", family="DejaVu Sans", anchor="center")

data.append(go.Scatter(x=page_x, y=page_y, text=page_text, mode="text", textposition="middle right",
                       textfont=dict(family=FONT, size=14, color="#555555"), xaxis="x4", yaxis="y4",
                       hoverinfo="skip", showlegend=False))
layout_axes["xaxis4"] = dict(domain=[0, 1], range=[0, W], anchor="y4", visible=False)
layout_axes["yaxis4"] = dict(domain=[0, 1], range=[H, 0], anchor="x4", visible=False)

# watermarks
label(3020, 783, "CSDN @是秃子总会反光", size=72, color="#e6e6e6", family="Noto Sans CJK SC", shadow="1px 1px 1px #b5b5b5")
label(3533, 812, "掘金技术社区 @ 慢慢529", size=24, color="#444444", family="Noto Sans CJK SC", shadow="1px 1px 0px #ffffff")

fig = go.Figure(data=data)
fig.update_layout(width=W, height=H, margin=dict(l=0, r=0, t=0, b=0), barmode="overlay", bargap=0,
                  paper_bgcolor="#ffffff", plot_bgcolor="rgba(0,0,0,0)", showlegend=False,
                  shapes=shapes, annotations=annotations, **layout_axes)
fig.write_html("out.html", config=dict(displayModeBar=False),
               post_script="document.body.style.margin = '0'; document.body.style.overflow = 'hidden';")
